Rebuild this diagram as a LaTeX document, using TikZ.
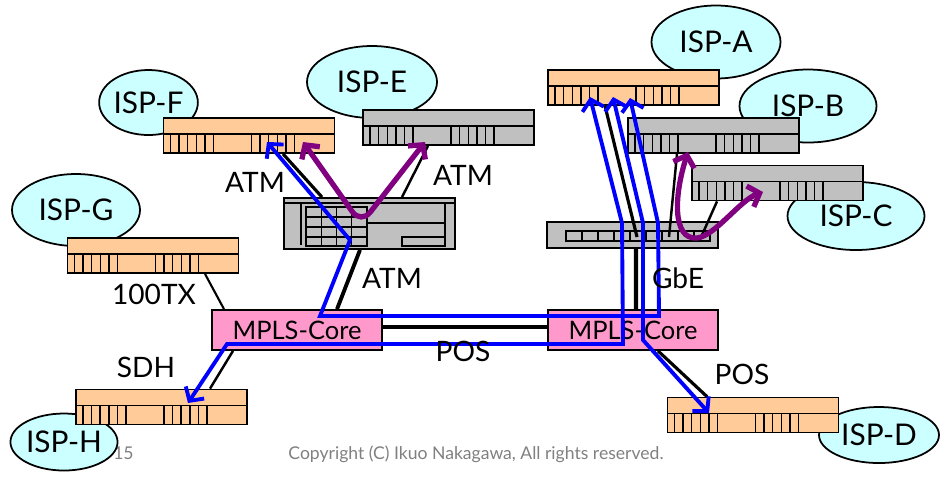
\documentclass[tikz,border=0pt]{standalone}
\usepackage{fontspec}
\setmainfont{Lato}
\usetikzlibrary{shapes.geometric, arrows.meta, calc}

\definecolor{ispcyan}{HTML}{CCFFFF}
\definecolor{rtorange}{HTML}{FFCC99}
\definecolor{swgray}{HTML}{C0C0C0}
\definecolor{corepink}{HTML}{FF99CC}
\definecolor{lspblue}{HTML}{0000FF}
\definecolor{flowpurple}{HTML}{800080}

\begin{document}
\begin{tikzpicture}[
  x=0.2mm, y=-0.2mm,
  isp/.style = {
    ellipse, draw=black, line width=1pt, fill=ispcyan, inner sep=0pt,
    font=\fontsize{17}{20}\selectfont
  },
  router/.style = {
    rectangle, draw=black, line width=1pt, fill=#1, inner sep=0pt,
    minimum width=34.2mm, minimum height=7mm,
    path picture={
      \coordinate (o) at (path picture bounding box.north west);
      \draw[line width=0.8pt] ([shift={(0,16)}]o) -- ([shift={(171,16)}]o);
      \foreach \i in {0,...,5} {
        \draw[line width=0.8pt] ([shift={(7+8.6*\i,16)}]o) -- ([shift={(7+8.6*\i,36)}]o);
        \draw[line width=0.8pt] ([shift={(88+8.6*\i,16)}]o) -- ([shift={(88+8.6*\i,36)}]o);
      }
    }
  },
  router/.default = rtorange,
  atmsw/.style = {
    rectangle, draw=black, line width=1pt, fill=swgray, inner sep=0pt,
    minimum width=34.2mm, minimum height=10.2mm,
    path picture={
      \coordinate (o) at (path picture bounding box.north west);
      \begin{scope}[line width=0.8pt]
        \draw ([shift={(0,5)}]o) -- ([shift={(171,5)}]o);
        \draw ([shift={(17,5)}]o) -- ([shift={(17,47)}]o);
        \draw ([shift={(22,9)}]o) rectangle ([shift={(83,48)}]o);
        \foreach \c in {37.25,52.5,67.75} \draw ([shift={(\c,9)}]o) -- ([shift={(\c,48)}]o);
        \foreach \r in {19,29,39} \draw ([shift={(22,\r)}]o) -- ([shift={(83,\r)}]o);
        \draw ([shift={(83,25)}]o) -- ([shift={(161,25)}]o);
        \draw ([shift={(161,5)}]o) -- ([shift={(161,48)}]o);
        \draw ([shift={(118,39)}]o) rectangle ([shift={(161,48)}]o);
      \end{scope}
    }
  },
  gbesw/.style = {
    rectangle, draw=black, line width=1pt, fill=swgray, inner sep=0pt,
    minimum width=34.2mm, minimum height=5.2mm,
    path picture={
      \coordinate (o) at (path picture bounding box.north west);
      \draw[line width=0.8pt] ([shift={(19,9)}]o) rectangle ([shift={(163,19)}]o);
      \foreach \k in {1,...,8}
        \draw[line width=0.8pt] ([shift={(19+16*\k,9)}]o) -- ([shift={(19+16*\k,19)}]o);
    }
  },
  core/.style = {
    rectangle, draw=black, line width=1pt, fill=corepink, inner sep=0pt,
    minimum width=34mm, minimum height=8mm,
    font=\fontsize{14.5}{17}\selectfont
  },
  lbl/.style = {inner sep=0pt, font=\fontsize{16}{19}\selectfont},
  copytext/.style = {inner sep=0pt, text=black!50, font=\fontsize{10}{12}\selectfont},
  link/.style = {draw=black, line width=#1},
  link/.default = 1.4pt,
  lsp/.style = {
    {Straight Barb[length=2mm, width=4.4mm]}-{Straight Barb[length=2mm, width=4.4mm]},
    draw=lspblue, line width=2.2pt
  },
  flow/.style = {
    {Straight Barb[length=2mm, width=4.4mm]}-{Straight Barb[length=2mm, width=4.4mm]},
    draw=flowpurple, line width=3pt
  }
]
  \useasboundingbox (0,0) rectangle (940,482);

  % footer
  \node[copytext, anchor=east] (pageno) at (134,453) {/15};
  \node[copytext] (cright) at (476,454) {Copyright (C) Ikuo Nakagawa, All rights reserved.};

  % ISP clouds
  \node[isp, minimum width=25.8mm, minimum height=14.6mm] (ispA) at (716,42)  {ISP-A};
  \node[isp, minimum width=27.4mm, minimum height=14.6mm] (ispB) at (808,106) {ISP-B};
  \node[isp, minimum width=27.4mm, minimum height=13.6mm] (ispC) at (856,216) {ISP-C};
  \node[isp, minimum width=24mm,   minimum height=11.2mm] (ispD) at (879,435) {ISP-D};
  \node[isp, minimum width=26mm,   minimum height=14.4mm] (ispE) at (372,82)  {ISP-E};
  \node[isp, minimum width=19.4mm, minimum height=13mm]   (ispF) at (148.5,102.5) {ISP-F};
  \node[isp, minimum width=25.6mm, minimum height=14.4mm] (ispG) at (76,210)  {ISP-G};
  \node[isp, minimum width=20.8mm, minimum height=11.4mm] (ispH) at (64,442)  {ISP-H};

  % edge routers
  \node[router]         (rA) at (633.5,87.5)  {};
  \node[router=swgray]  (rB) at (713.5,135.5) {};
  \node[router=swgray]  (rC) at (777.5,183)   {};
  \node[router]         (rD) at (753,415)     {};
  \node[router=swgray]  (rE) at (448.5,127.5) {};
  \node[router]         (rF) at (249,135.5)   {};
  \node[router]         (rG) at (153,255.5)   {};
  \node[router]         (rH) at (161.5,407)   {};

  % switches and core
  \node[atmsw] (atm) at (369.5,223.5) {};
  \node[gbesw] (gbe) at (632.5,235)   {};
  \node[core] (coreL) at (297,330) {MPLS-Core};
  \node[core] (coreR) at (633,330) {MPLS-Core};

  % physical links
  \draw[link=1.8pt] ([shift={(34,0)}]rF.south) -- ([shift={(-47.5,0)}]atm.north);
  \draw[link] ([shift={(-20.5,0)}]rE.south) -- ([shift={(32.5,0)}]atm.north);
  \draw[link=2.2pt] ([shift={(-9.5,0)}]atm.south) -- ([shift={(40,0)}]coreL.north);
  \draw[link=1.2pt] ([shift={(52,0)}]rG.south) -- ([shift={(-73,0)}]coreL.north);
  \draw[link] ([shift={(-64,0)}]coreL.south) -- ([shift={(48.5,0)}]rH.north);
  \draw[link=2.4pt] ([shift={(0,-3)}]coreL.east) -- ([shift={(0,-3)}]coreR.west);
  \draw[link=2.4pt] ([shift={(3.5,0)}]gbe.south) -- ([shift={(3,0)}]coreR.north);
  \draw[link=1.8pt] ([shift={(25,0)}]coreR.south) -- ([shift={(-46,0)}]rD.north);
  \draw[link=1.8pt] ([shift={(4.5,2)}]gbe.center) -- ([shift={(-28.5,0)}]rA.south);
  \draw[link] ([shift={(36.5,2)}]gbe.center) -- ([shift={(-36.5,0)}]rB.south);
  \draw[link] ([shift={(69.5,0)}]gbe.center) -- ([shift={(-60.5,0)}]rC.south);

  % label switched paths
  \draw[lsp] ([shift={(-3.5,10.5)}]rA.center) -- (658,223) -- (659,316) -- (320,316)
    -- (350,240) -- ([shift={(18,6.5)}]rF.center);
  \draw[lsp] ([shift={(-43.5,9.5)}]rA.center) -- (622,223) -- (623,344) -- (227,344)
    -- ([shift={(26.5,-4)}]rH.center);
  \draw[lsp] ([shift={(-20.5,9.5)}]rA.center) -- (643,223) -- (643,340)
    -- ([shift={(-44,-2)}]rD.center);

  % local flows
  \draw[flow, rounded corners=3mm] ([shift={(54,6.5)}]rF.center) -- (361,224)
    -- ([shift={(-23.5,14.5)}]rE.center);
  \draw[flow] ([shift={(-25.5,16.5)}]rB.center) .. controls (674,195) and (672,240) .. (697,238)
    .. controls (715,236) and (740,200) .. ([shift={(-14.5,9)}]rC.center);

  % link labels
  \node[lbl] (lAtmF) at (255,182) {ATM};
  \node[lbl] (lAtmE) at (463,175) {ATM};
  \node[lbl] (lAtmC) at (392,278) {ATM};
  \node[lbl] (l100)  at (154,294) {100TX};
  \node[lbl] (lSdh)  at (146,367) {SDH};
  \node[lbl] (lPos)  at (463,351) {POS};
  \node[lbl] (lGbe)  at (678,278) {GbE};
  \node[lbl] (lPosD) at (742,374) {POS};

\end{tikzpicture}
\end{document}
